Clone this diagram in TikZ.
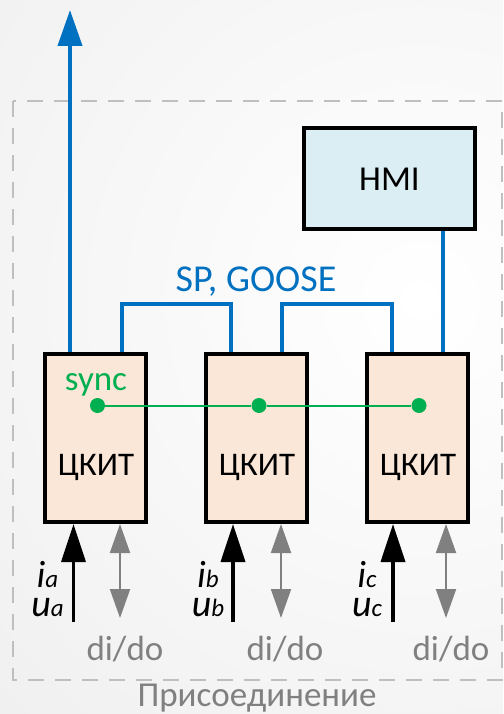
\documentclass[tikz,border=0pt]{standalone}
\usepackage{fontspec}
\setmainfont{Carlito}
\usetikzlibrary{arrows.meta,calc}
\definecolor{netblue}{HTML}{0070C0}
\definecolor{syncgreen}{HTML}{00B050}
\definecolor{hmifill}{HTML}{DAEEF3}
\definecolor{ckitfill}{HTML}{FBE7D8}
\definecolor{midgray}{HTML}{808080}
\definecolor{framegray}{HTML}{BFBFBF}
% small italic index set on the baseline, as in i_a
\newcommand\qidx[1]{{\fontsize{25}{25}\selectfont\itshape #1}}
\begin{document}
\begin{tikzpicture}[x=1pt,y=-1pt,
  every node/.style={font=\fontsize{35}{40}\selectfont},
  ckit/.style={draw=black, line width=4pt, fill=ckitfill, minimum width=101pt, minimum height=168pt, inner sep=0pt},
  hmibox/.style={draw=black, line width=4pt, fill=hmifill, minimum width=171pt, minimum height=101pt, inner sep=0pt},
  bluelink/.style={draw=netblue, line width=4pt},
  syncline/.style={draw=syncgreen, line width=2pt},
  syncdot/.style={circle, fill=syncgreen, minimum size=15pt, inner sep=0pt},
  meas/.style={draw=black, line width=3.5pt, -{Triangle[width=24pt,length=38pt]}},
  dio/.style={draw=midgray, line width=2pt, {Triangle[width=20pt,length=29pt]}-{Triangle[width=20pt,length=29pt]}},
  lbl/.style={anchor=base, inner sep=0pt},
  ckitlbl/.style={anchor=base, inner sep=0pt, font=\fontsize{33}{40}\selectfont},
  qty/.style={anchor=south, inner sep=0pt, align=center, font=\fontsize{38}{29}\selectfont\itshape},
]
% canvas with a soft grey vignette
\useasboundingbox (0,0) rectangle (503,714);
\begin{scope}
  \clip (0,0) rectangle (503,714);
  \shade[inner color=white, outer color=black!9] (420,300) circle (900);
\end{scope}

% bay frame
\draw[framegray, line width=2pt, dash pattern=on 16pt off 11pt] (13,101) rectangle (502,680);
\node[lbl, text=midgray] (bay) at (257,706) {Присоединение};

% devices
\node[ckit] (b1) at (95.5,438) {};
\node[ckit] (b2) at (256.5,438) {};
\node[ckit] (b3) at (417.5,438) {};
\node[hmibox] (hmi) at (389.5,178.5) {};
\node[lbl] (hmit) at (389.5,190) {HMI};
\node[ckitlbl] (t1) at (96,475) {ЦКИТ};
\node[ckitlbl] (t2) at (257,475) {ЦКИТ};
\node[ckitlbl] (t3) at (418,475) {ЦКИТ};

% station bus
\coordinate (up) at (70,10);
\draw[bluelink, -{Triangle[width=24pt,length=36pt]}] ($(b1.north)+(-25.5,0)$) -- (up);
\draw[bluelink] ($(b1.north)+(26,0)$) -- ++(0,-48) -| ($(b2.north)+(-25.5,0)$);
\draw[bluelink] ($(b2.north)+(25.5,0)$) -- ++(0,-48) -| ($(b3.north)+(-25.5,0)$);
\coordinate (hb) at ($(b3.north)+(25.5,0)$);
\draw[bluelink] (hb) -- (hb |- hmi.south);
\node[lbl, text=netblue, font=\fontsize{38}{40}\selectfont] (bus) at (256,291) {SP, GOOSE};

% time synchronisation
\node[lbl, text=syncgreen] (sync) at (96,390) {sync};
\node[syncdot] (s1) at (97.5,405.5) {};
\node[syncdot] (s2) at (259,405.5) {};
\node[syncdot] (s3) at (419,405.5) {};
\draw[syncline] (s1) -- (s2) -- (s3);

% analogue inputs
\draw[meas] ($(b1.south)+(-22,98)$) -- ($(b1.south)+(-22,0)$);
\draw[meas] ($(b2.south)+(-23.5,98)$) -- ($(b2.south)+(-23.5,0)$);
\draw[meas] ($(b3.south)+(-24.5,98)$) -- ($(b3.south)+(-24.5,0)$);
\node[qty] (qa) at (47.5,617) {i\qidx{a}\\u\qidx{a}};
\node[qty] (qb) at (208,617) {i\qidx{b}\\u\qidx{b}};
\node[qty] (qc) at (367,617) {i\qidx{c}\\u\qidx{c}};

% discrete inputs / outputs
\draw[dio] ($(b1.south)+(24.5,0)$) -- ($(b1.south)+(24.5,94)$);
\draw[dio] ($(b2.south)+(24.5,0)$) -- ($(b2.south)+(24.5,94)$);
\draw[dio] ($(b3.south)+(28.5,0)$) -- ($(b3.south)+(28.5,94)$);
\node[lbl, text=midgray] (d1) at (125,660) {di/do};
\node[lbl, text=midgray] (d2) at (285,660) {di/do};
\node[lbl, text=midgray] (d3) at (451,660) {di/do};
\end{tikzpicture}
\end{document}
